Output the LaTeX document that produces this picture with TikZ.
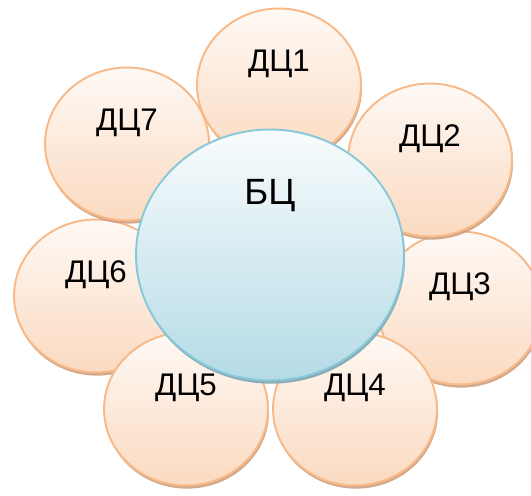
\documentclass[tikz,border=0pt]{standalone}
\usepackage{fontspec}
\setmainfont{Liberation Sans}
\usetikzlibrary{shapes.geometric,shadows}

\definecolor{petalline}{RGB}{248,185,136}
\definecolor{petaltop}{RGB}{254,249,245}
\definecolor{petalbot}{RGB}{251,218,192}
\definecolor{petalshade}{RGB}{205,160,128}
\definecolor{coreline}{RGB}{136,200,216}
\definecolor{coretop}{RGB}{249,252,253}
\definecolor{corebot}{RGB}{180,219,230}
\definecolor{coreshade}{RGB}{125,165,178}

\begin{document}
\begin{tikzpicture}[x=0.02cm, y=-0.02cm,
    petal/.style={ellipse, draw=petalline, line width=1.1pt, inner sep=0pt,
        minimum width=3.28cm, minimum height=3.06cm,
        top color=petaltop, bottom color=petalbot,
        drop shadow={shadow xshift=0.6pt, shadow yshift=-1.8pt, fill=petalshade, opacity=0.9}},
    core/.style={ellipse, draw=coreline, line width=1.1pt, inner sep=0pt,
        minimum width=5.36cm, minimum height=5.02cm,
        top color=coretop, bottom color=corebot,
        drop shadow={shadow xshift=0.6pt, shadow yshift=-1.8pt, fill=coreshade, opacity=0.9}},
    dctext/.style={font=\fontsize{17.8}{20}\selectfont},
    bctext/.style={font=\fontsize{20.8}{23}\selectfont}]
    \useasboundingbox (0,0) rectangle (531,496);

    % outer circles, back to front
    \foreach \n/\x/\y in {1/279/85, 3/460/308, 6/96/296, 2/430/160, 4/355/409, 5/186/409, 7/127/144}{
        \node[petal] (dc\n) at (\x,\y) {};
        \node[dctext] (t\n) at ([yshift=0.43cm]dc\n.center) {ДЦ\n};
    }

    % centre
    \node[core] (bc) at (270,255) {};
    \node[bctext] (tbc) at ([yshift=1.18cm]bc.center) {БЦ};
\end{tikzpicture}
\end{document}
